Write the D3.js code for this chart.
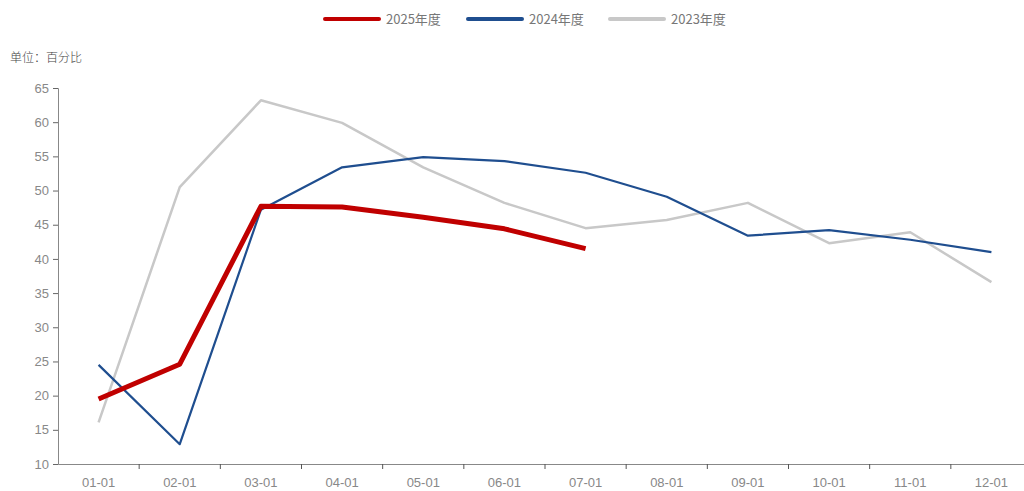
<!DOCTYPE html>
<html lang="zh">
<head>
<meta charset="UTF-8">
<script src="https://d3js.org/d3.v7.min.js"></script>
<style>
  body { margin: 0; background: #fff; font-family: "Noto Sans CJK SC", "Noto Sans", sans-serif; }
  svg { display: block; }
</style>
</head>
<body>
<svg id="chart" width="1024" height="491"></svg>
<script>
const months = ["01-01","02-01","03-01","04-01","05-01","06-01","07-01","08-01","09-01","10-01","11-01","12-01"];
const y2025 = [19.5, 24.6, 47.7, 47.6, 46.1, 44.4, 41.5];
const y2024 = [24.5, 12.9, 47.2, 53.4, 54.9, 54.3, 52.6, 49.1, 43.4, 44.2, 42.8, 41.0];
const y2023 = [16.1, 50.5, 63.2, 59.9, 53.4, 48.2, 44.5, 45.7, 48.2, 42.3, 43.9, 36.6];
const yTicks = [10, 15, 20, 25, 30, 35, 40, 45, 50, 55, 60, 65];

const series = [
  { name: "2025年度", values: y2025, color: "#c00000", width: 5 },
  { name: "2024年度", values: y2024, color: "#1f4e8f", width: 2.2 },
  { name: "2023年度", values: y2023, color: "#c8c8c8", width: 2.5 }
];

const svg = d3.select("#chart");
const mLeft = 58, mRight = 1032, mTop = 88, mBottom = 464;

const x = d3.scaleBand().domain(months).range([mLeft, mRight]);
const y = d3.scaleLinear().domain([10, 65]).range([mBottom, mTop]);

// y axis
const yAxis = svg.append("g")
  .attr("transform", `translate(${mLeft},0)`)
  .call(d3.axisLeft(y).tickValues(yTicks).tickSize(5).tickPadding(4));
yAxis.select(".domain").attr("stroke", "#888");
yAxis.selectAll(".tick line").attr("stroke", "#666");
yAxis.selectAll("text").attr("fill", "#888").style("font-size", "13px")
  .style("font-family", "'Liberation Sans', Arial, sans-serif");

// x axis, ticks on band boundaries
const xAxis = svg.append("g")
  .attr("transform", `translate(0,${mBottom})`)
  .call(d3.axisBottom(x).tickSize(0).tickPadding(14));
xAxis.select(".domain").attr("stroke", "#888");
xAxis.selectAll("text").attr("fill", "#888").style("font-size", "13px")
  .style("font-family", "'Liberation Sans', Arial, sans-serif");
xAxis.selectAll("line.bound")
  .data(months.slice(1))
  .enter().append("line")
  .attr("class", "bound")
  .attr("x1", d => x(d)).attr("x2", d => x(d))
  .attr("y1", 0).attr("y2", 5)
  .attr("stroke", "#555");

// unit label
svg.append("text")
  .attr("x", 10).attr("y", 62)
  .attr("fill", "#444")
  .style("font-size", "12px")
  .style("font-weight", "300")
  .text("单位：百分比");

// lines (draw older first)
const line = d3.line()
  .x((d, i) => x(months[i]) + x.bandwidth() / 2)
  .y(d => y(d));

series.slice().reverse().forEach(s => {
  svg.append("path")
    .datum(s.values)
    .attr("fill", "none")
    .attr("stroke", s.color)
    .attr("stroke-width", s.width)
    .attr("stroke-linejoin", "round")
    .attr("d", line);
});

// legend
const legendX = [325, 468, 610];
const legend = svg.selectAll("g.legend")
  .data(series)
  .enter().append("g")
  .attr("class", "legend")
  .attr("transform", (d, i) => `translate(${legendX[i]},19)`);
legend.append("line")
  .attr("x1", 0).attr("x2", 54)
  .attr("stroke", d => d.color)
  .attr("stroke-width", 4)
  .attr("stroke-linecap", "round");
legend.append("text")
  .attr("x", 61).attr("y", 5)
  .attr("fill", "#777")
  .style("font-size", "13px")
  .text(d => d.name);
</script>
</body>
</html>
